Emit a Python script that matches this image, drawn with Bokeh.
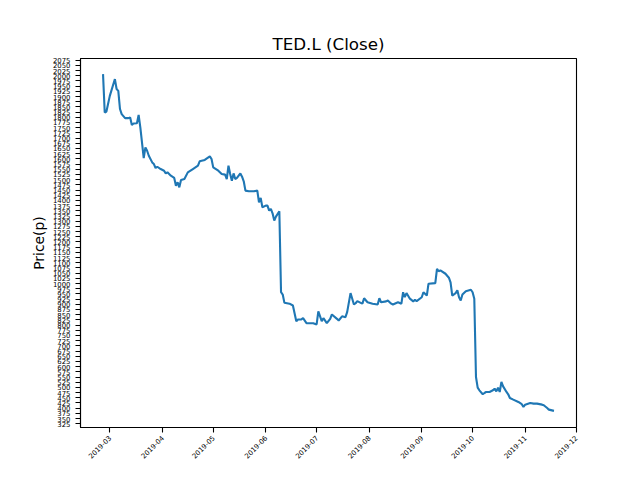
import math
from datetime import datetime
import pandas as pd
from bokeh.plotting import figure
from bokeh.models import Range1d, SingleIntervalTicker, FixedTicker, DatetimeTickFormatter, ColumnDataSource
from bokeh.embed import file_html
from bokeh.resources import INLINE

dates = [
    "2019-02-25", "2019-02-26", "2019-02-27", "2019-03-01", "2019-03-04", "2019-03-05", "2019-03-06",
    "2019-03-07", "2019-03-08", "2019-03-10", "2019-03-12", "2019-03-13", "2019-03-14", "2019-03-15",
    "2019-03-17", "2019-03-18", "2019-03-19", "2019-03-21", "2019-03-22", "2019-03-23", "2019-03-24",
    "2019-03-26", "2019-03-27", "2019-03-28", "2019-03-29", "2019-03-31", "2019-04-02", "2019-04-03",
    "2019-04-04", "2019-04-06", "2019-04-08", "2019-04-09", "2019-04-10", "2019-04-11", "2019-04-12",
    "2019-04-14", "2019-04-16", "2019-04-19", "2019-04-22", "2019-04-23", "2019-04-26", "2019-04-29",
    "2019-04-30", "2019-05-01", "2019-05-04", "2019-05-06", "2019-05-08", "2019-05-09", "2019-05-10",
    "2019-05-11", "2019-05-12", "2019-05-13", "2019-05-14", "2019-05-15", "2019-05-17", "2019-05-18",
    "2019-05-19", "2019-05-20", "2019-05-22", "2019-05-25", "2019-05-27", "2019-05-28", "2019-05-29",
    "2019-05-30", "2019-06-01", "2019-06-02", "2019-06-03", "2019-06-04", "2019-06-05", "2019-06-06",
    "2019-06-07", "2019-06-09", "2019-06-10", "2019-06-11", "2019-06-12", "2019-06-15", "2019-06-17",
    "2019-06-19", "2019-06-20", "2019-06-22", "2019-06-23", "2019-06-25", "2019-06-29", "2019-07-01",
    "2019-07-02", "2019-07-04", "2019-07-05", "2019-07-07", "2019-07-09", "2019-07-10", "2019-07-13",
    "2019-07-14", "2019-07-16", "2019-07-18", "2019-07-19", "2019-07-21", "2019-07-23", "2019-07-24",
    "2019-07-25", "2019-07-27", "2019-07-28", "2019-07-29", "2019-07-31", "2019-08-03", "2019-08-06",
    "2019-08-07", "2019-08-08", "2019-08-11", "2019-08-12", "2019-08-14", "2019-08-15", "2019-08-18",
    "2019-08-20", "2019-08-21", "2019-08-22", "2019-08-23", "2019-08-25", "2019-08-27", "2019-08-28",
    "2019-08-29", "2019-09-01", "2019-09-02", "2019-09-04", "2019-09-05", "2019-09-09", "2019-09-10",
    "2019-09-11", "2019-09-12", "2019-09-15", "2019-09-17", "2019-09-18", "2019-09-19", "2019-09-21",
    "2019-09-22", "2019-09-23", "2019-09-24", "2019-09-25", "2019-09-27", "2019-09-30", "2019-10-01",
    "2019-10-02", "2019-10-03", "2019-10-04", "2019-10-05", "2019-10-07", "2019-10-08", "2019-10-09",
    "2019-10-11", "2019-10-13", "2019-10-14", "2019-10-15", "2019-10-16", "2019-10-17", "2019-10-18",
    "2019-10-19", "2019-10-21", "2019-10-22", "2019-10-23", "2019-10-25", "2019-10-28", "2019-10-30",
    "2019-10-31", "2019-11-01", "2019-11-04", "2019-11-06", "2019-11-08", "2019-11-11", "2019-11-12",
    "2019-11-14", "2019-11-15", "2019-11-18",
]

close = [
    2008, 1823, 1828, 1903, 1984, 1936, 1927,
    1840, 1815, 1796, 1796, 1799, 1763, 1770,
    1771, 1811, 1751, 1604, 1655, 1639, 1615,
    1583, 1575, 1556, 1562, 1551, 1543, 1530,
    1535, 1519, 1508, 1471, 1487, 1463, 1498,
    1503, 1535, 1551, 1567, 1588, 1595, 1612,
    1599, 1559, 1543, 1527, 1524, 1503, 1567,
    1527, 1495, 1530, 1503, 1508, 1530, 1514,
    1492, 1447, 1444, 1444, 1447, 1391, 1412,
    1367, 1375, 1375, 1351, 1359, 1338, 1303,
    1322, 1348, 958, 947, 907, 903, 894,
    818, 827, 827, 833, 809, 809, 803,
    866, 819, 833, 809, 830, 851, 830,
    822, 842, 838, 862, 954, 899, 905,
    915, 907, 903, 929, 910, 903, 899,
    929, 910, 914, 918, 903, 899, 910,
    903, 958, 934, 954, 927, 914, 922,
    915, 934, 958, 942, 999, 1002, 1071,
    1059, 1063, 1047, 1028, 1006, 942, 954,
    967, 934, 918, 947, 963, 970, 958,
    927, 550, 499, 486, 467, 473, 478,
    478, 486, 494, 481, 499, 478, 526,
    505, 478, 467, 449, 441, 430, 419,
    406, 417, 425, 422, 422, 417, 414,
    401, 393, 387,
]

month_ticks = ["2019-03", "2019-04", "2019-05", "2019-06", "2019-07",
               "2019-08", "2019-09", "2019-10", "2019-11", "2019-12"]
price_step = 25

FONT = "DejaVu Sans"

src = ColumnDataSource(data=dict(date=pd.to_datetime(dates), close=close))

p = figure(
    width=624, height=464,
    x_axis_type="datetime",
    output_backend="svg", toolbar_location=None,
    title="TED.L (Close)",
    min_border_left=80, min_border_right=48, min_border_top=58, min_border_bottom=37,
    x_range=Range1d(datetime(2019, 2, 11, 17), datetime(2019, 12, 1, 7)),
    y_range=Range1d(307, 2083),
)
p.background_fill_color = "white"
p.border_fill_color = "white"
p.outline_line_color = "black"
p.outline_line_width = 1.1
p.outline_line_alpha = 1.0

p.title.text_font = FONT
p.title.text_font_size = "16.7px"
p.title.text_font_style = "normal"
p.title.text_color = "black"
p.title.align = "center"

p.line("date", "close", source=src, line_color="#1f77b4", line_width=2.1)

p.xgrid.visible = False
p.ygrid.visible = False

tick_ms = [pd.Timestamp(m + "-01").value / 1e6 for m in month_ticks]
p.xaxis.ticker = FixedTicker(ticks=tick_ms)
fmt = "%Y-%m"
p.xaxis.formatter = DatetimeTickFormatter(
    milliseconds=fmt, seconds=fmt, minsec=fmt, minutes=fmt, hourmin=fmt,
    hours=fmt, days=fmt, months=fmt, years=fmt)
p.xaxis.major_label_orientation = math.pi / 4
p.yaxis.ticker = SingleIntervalTicker(interval=price_step, num_minor_ticks=0)
p.yaxis.axis_label = "Price(p)"

for ax in (p.xaxis[0], p.yaxis[0]):
    ax.axis_line_color = "black"
    ax.axis_line_width = 1.1
    ax.major_tick_line_color = "black"
    ax.major_tick_line_width = 1.1
    ax.major_tick_out = 5
    ax.major_tick_in = 0
    ax.minor_tick_out = 0
    ax.minor_tick_in = 0
    ax.major_label_text_font = FONT
    ax.major_label_text_font_size = "6.9px"
    ax.major_label_text_color = "black"
    ax.major_label_standoff = 5
    ax.axis_label_text_font = FONT
    ax.axis_label_text_font_size = "13.9px"
    ax.axis_label_text_font_style = "normal"
    ax.axis_label_text_color = "black"
    ax.axis_label_standoff = 3
p.xaxis.major_label_standoff = 4

open("out.html", "w").write(file_html(p, INLINE))
